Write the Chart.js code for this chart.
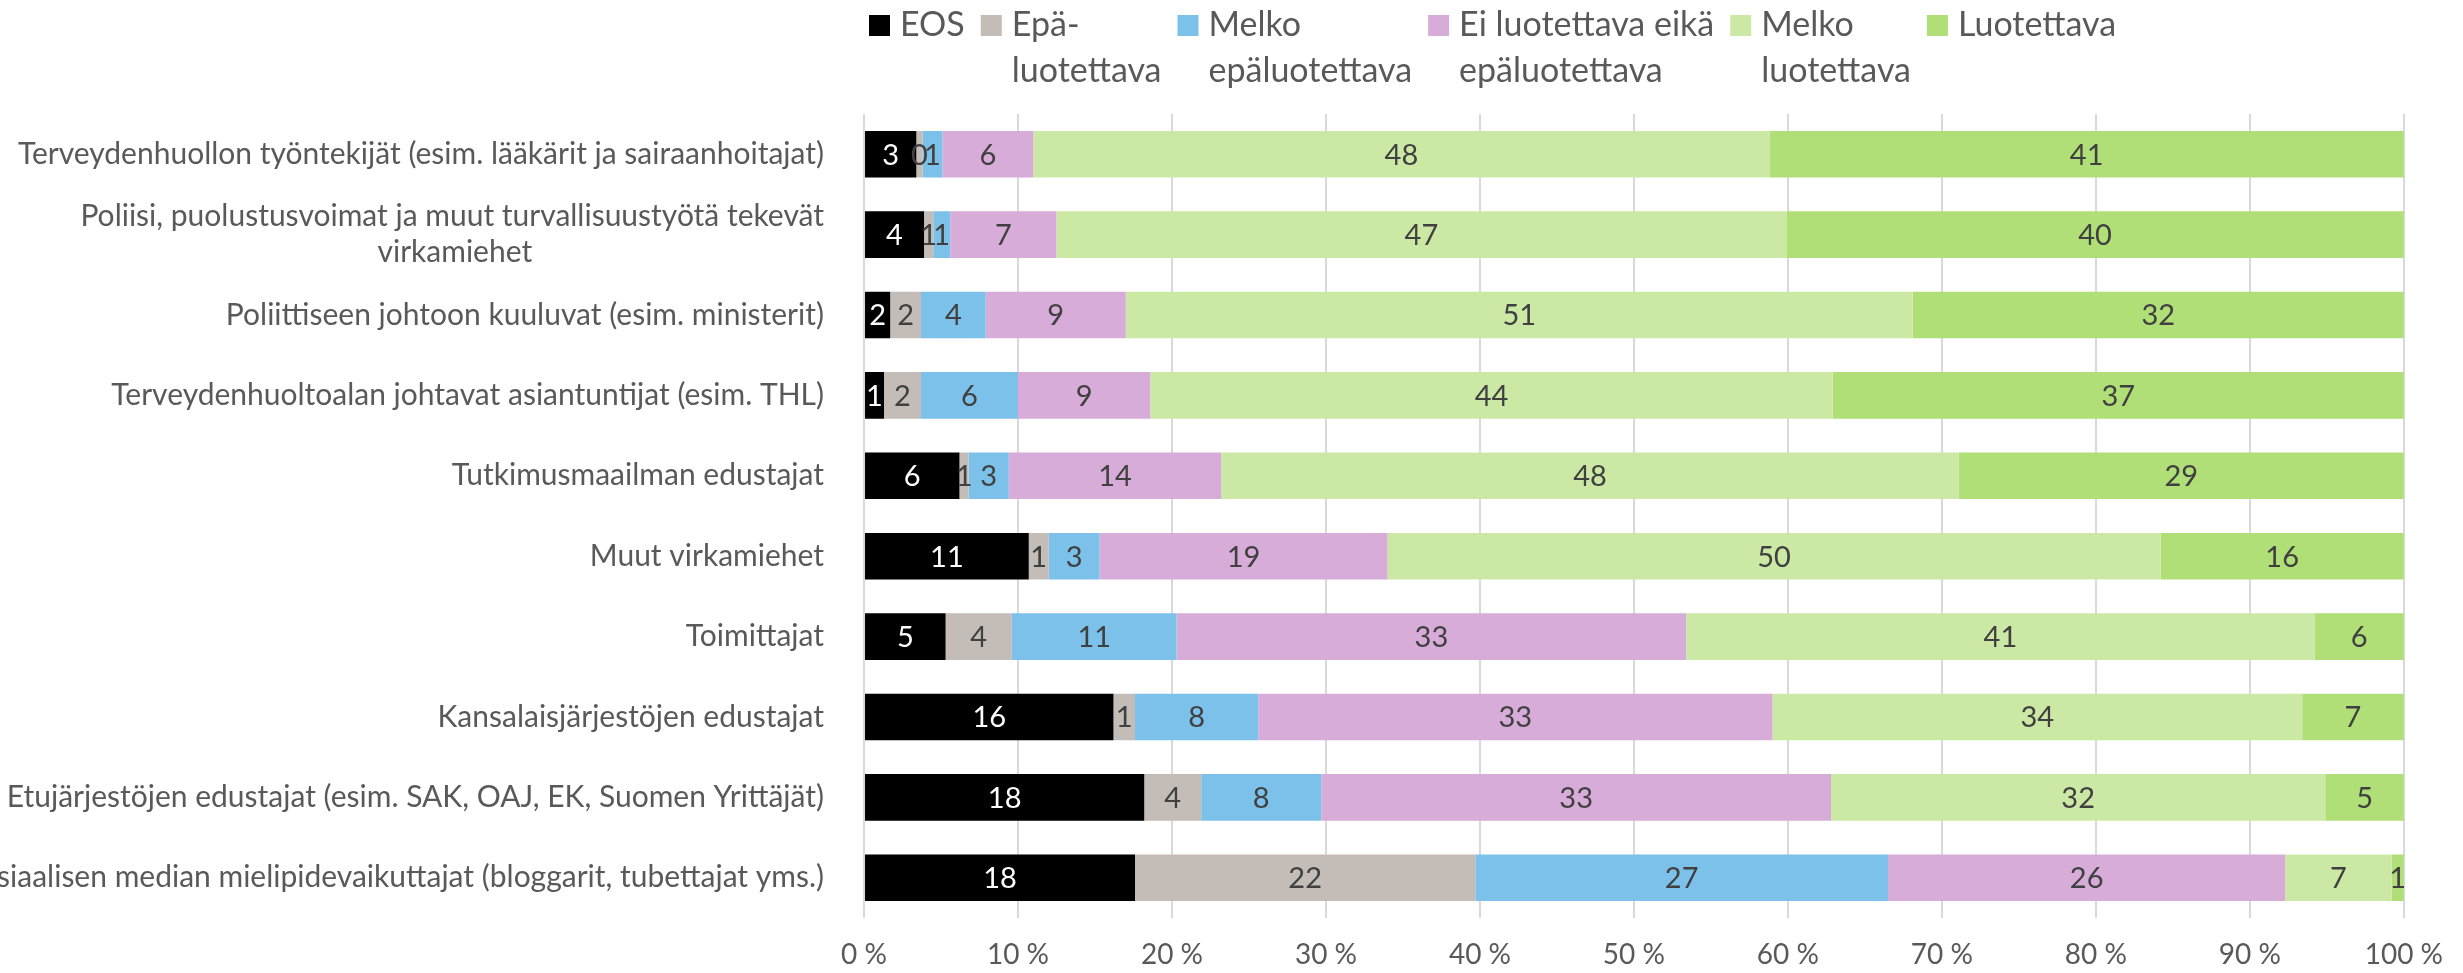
<!DOCTYPE html>
<html>
<head>
<meta charset="utf-8">
<script src="https://cdn.jsdelivr.net/npm/chart.js@4.4.1/dist/chart.umd.min.js"></script>
<style>
    html, body { margin: 0; background: #fff; }
    #wrap { width: 2463px; height: 973px; position: relative; }
</style>
</head>
<body>
<div id="wrap"><canvas id="chart"></canvas></div>
<script>
const categories = [
    "Terveydenhuollon työntekijät (esim. lääkärit ja sairaanhoitajat)",
    ["Poliisi, puolustusvoimat ja muut turvallisuustyötä tekevät", "virkamiehet"],
    "Poliittiseen johtoon kuuluvat (esim. ministerit)",
    "Terveydenhuoltoalan johtavat asiantuntijat (esim. THL)",
    "Tutkimusmaailman edustajat",
    "Muut virkamiehet",
    "Toimittajat",
    "Kansalaisjärjestöjen edustajat",
    "Etujärjestöjen edustajat (esim. SAK, OAJ, EK, Suomen Yrittäjät)",
    "Sosiaalisen median mielipidevaikuttajat (bloggarit, tubettajat yms.)"
];
const seriesNames = ["EOS", "Epäluotettava", "Melko epäluotettava", "Ei luotettava eikä epäluotettava", "Melko luotettava", "Luotettava"];
const legendLines = [["EOS"], ["Epä-", "luotettava"], ["Melko", "epäluotettava"], ["Ei luotettava eikä", "epäluotettava"], ["Melko", "luotettava"], ["Luotettava"]];

const eos = [3.4, 3.9, 1.7, 1.3, 6.2, 10.7, 5.3, 16.2, 18.2, 17.6];
const epaluotettava = [0.4, 0.6, 2.0, 2.4, 0.6, 1.3, 4.3, 1.4, 3.7, 22.1];
const melkoEpaluotettava = [1.3, 1.1, 4.2, 6.3, 2.6, 3.3, 10.7, 8.0, 7.8, 26.8];
const eiKumpikaan = [5.9, 6.9, 9.1, 8.6, 13.8, 18.7, 33.1, 33.4, 33.1, 25.8];
const melkoLuotettava = [47.8, 47.4, 51.1, 44.3, 47.9, 50.2, 40.8, 34.4, 32.1, 6.9];
const luotettava = [41.2, 40.1, 31.9, 37.1, 28.9, 15.8, 5.8, 6.6, 5.1, 0.8];

const xTicks = [0, 10, 20, 30, 40, 50, 60, 70, 80, 90, 100];

const colors = ["#000000", "#c4bdb7", "#7cc1e9", "#d8acd9", "#cbe9a5", "#afdf76"];
const FONT = "Lato";

const barLabels = {
    id: "barLabels",
    afterDatasetsDraw(chart) {
        const ctx = chart.ctx;
        ctx.save();
        ctx.font = `29px ${FONT}`;
        ctx.textAlign = "center";
        ctx.textBaseline = "middle";
        chart.data.datasets.forEach((ds, i) => {
            chart.getDatasetMeta(i).data.forEach((bar, j) => {
                ctx.fillStyle = i === 0 ? "#ffffff" : "#404040";
                ctx.fillText(Math.round(ds.data[j]), (bar.x + bar.base) / 2, bar.y + 1);
            });
        });
        ctx.restore();
    }
};

// Excel-style legend: wrapped labels, items laid out by measured text width
const legendRow = {
    id: "legendRow",
    afterDraw(chart) {
        const ctx = chart.ctx;
        ctx.save();
        ctx.font = `34px ${FONT}`;
        ctx.textAlign = "left";
        ctx.textBaseline = "alphabetic";
        let x = chart.chartArea.left + 5;
        legendLines.forEach((lines, i) => {
            ctx.fillStyle = colors[i];
            ctx.fillRect(x, 15, 21, 21);
            ctx.fillStyle = "#595959";
            lines.forEach((line, k) => ctx.fillText(line, x + 31, 36 + k * 46));
            x += 31 + Math.max(...lines.map(line => ctx.measureText(line).width)) + 16;
        });
        ctx.restore();
    }
};

// wrapped category labels: centre the shorter line under the longer one
function centreLines(chart, label) {
    if (!Array.isArray(label)) return label;
    const ctx = chart.ctx;
    ctx.save();
    ctx.font = `30px ${FONT}`;
    const widest = Math.max(...label.map(line => ctx.measureText(line).width));
    const space = ctx.measureText("\u00a0").width;
    const out = label.map(line => line + "\u00a0".repeat(Math.round((widest - ctx.measureText(line).width) / 2 / space)));
    ctx.restore();
    return out;
}

new Chart(document.getElementById("chart"), {
    type: "bar",
    data: {
        labels: categories,
        datasets: [eos, epaluotettava, melkoEpaluotettava, eiKumpikaan, melkoLuotettava, luotettava].map((data, i) => ({
            label: seriesNames[i],
            data,
            backgroundColor: colors[i],
            borderWidth: 0,
            barPercentage: 0.58,
            categoryPercentage: 1
        }))
    },
    options: {
        indexAxis: "y",
        responsive: true,
        maintainAspectRatio: false,
        animation: false,
        layout: { padding: { left: 0, right: 58, top: 114, bottom: 0 } },
        plugins: {
            tooltip: { enabled: false },
            legend: { display: false }
        },
        scales: {
            x: {
                stacked: true,
                min: 0,
                max: 100,
                afterBuildTicks(scale) { scale.ticks = xTicks.map(value => ({ value })); },
                afterFit(scale) { scale.height = 55; },
                grid: { color: "#d9d9d9", lineWidth: 2, drawTicks: false },
                border: { display: false },
                ticks: {
                    padding: 20,
                    color: "#595959",
                    font: { family: FONT, size: 28 },
                    callback: v => `${v} %`
                }
            },
            y: {
                stacked: true,
                afterFit(scale) { scale.width = 864; },
                grid: { display: false },
                border: { display: false },
                ticks: {
                    padding: 32,
                    color: "#595959",
                    font: { family: FONT, size: 30, lineHeight: 1.2 },
                    callback(value) { return centreLines(this.chart, categories[value]); }
                }
            }
        }
    },
    plugins: [barLabels, legendRow]
});
</script>
</body>
</html>
